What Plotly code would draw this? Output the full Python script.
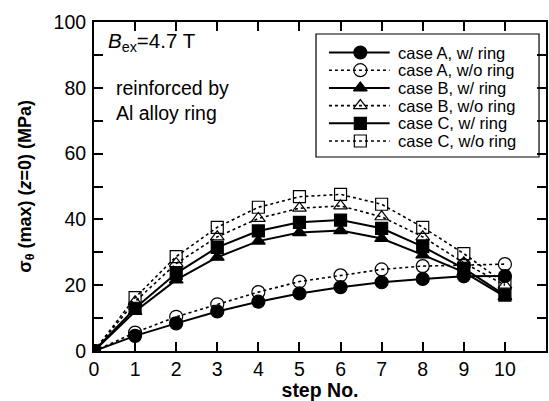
import plotly.graph_objects as go

steps = [0, 1, 2, 3, 4, 5, 6, 7, 8, 9, 10]

case_a_ring = [0, 4.6, 8.4, 12.0, 15.0, 17.5, 19.4, 20.9, 21.9, 22.7, 22.8]
case_a_noring = [0, 5.6, 10.4, 14.2, 17.9, 21.1, 23.0, 24.8, 25.8, 26.1, 26.4]
case_b_ring = [0, 12.0, 21.6, 28.5, 33.4, 36.0, 36.6, 34.2, 29.2, 24.0, 16.5]
case_b_noring = [0, 15.0, 26.6, 34.7, 40.3, 43.4, 44.1, 40.8, 34.7, 26.8, 20.0]
case_c_ring = [0, 13.0, 23.6, 31.5, 36.5, 39.1, 39.8, 37.3, 31.7, 25.1, 17.0]
case_c_noring = [0, 16.2, 28.7, 37.6, 43.7, 46.9, 47.6, 44.6, 37.6, 29.6, 20.6]

series_names = [
    "case A, w/ ring", "case A, w/o ring",
    "case B, w/ ring", "case B, w/o ring",
    "case C, w/ ring", "case C, w/o ring",
]
series_values = [case_a_ring, case_a_noring, case_b_ring,
                 case_b_noring, case_c_ring, case_c_noring]
symbols = ["circle", "circle-open", "triangle-up", "triangle-up-open",
           "square", "square-open"]

FONT = "Liberation Sans, Arial, Helvetica, sans-serif"
W, H = 549, 401
ML, MR, MT, MB = 94, 1, 22, 50
PW, PH = W - ML - MR, H - MT - MB


def px(x):
    """Pixel column -> paper fraction."""
    return (x - ML) / PW


def py(y):
    """Pixel row -> paper fraction."""
    return (H - MB - y) / PH


def line_style(sym):
    hollow = sym.endswith("open")
    return dict(color="black", width=1.6 if hollow else 2.0,
                dash="3px,3px" if hollow else "solid")


def marker_style(sym):
    return dict(symbol=sym, size=13 if "circle" in sym else 12,
                color="black", line=dict(color="black", width=1.2))


fig = go.Figure()
for name, vals, sym in zip(series_names, series_values, symbols):
    fig.add_trace(go.Scatter(
        x=steps, y=vals, name=name, mode="lines+markers",
        line=line_style(sym), marker=marker_style(sym),
        showlegend=False,
    ))

# Legend: framed box with line samples, symbols and labels
box_l, box_r, box_t, box_b = 317, 541, 34, 157
row0, row_gap = 52.5, 17.7
fig.add_shape(type="rect", xref="paper", yref="paper",
              x0=px(box_l), x1=px(box_r), y0=py(box_b), y1=py(box_t),
              line=dict(color="black", width=1.2), layer="above")
for i, (name, sym) in enumerate(zip(series_names, symbols)):
    yc = row0 + i * row_gap
    fig.add_shape(type="line", xref="paper", yref="paper",
                  x0=px(330), x1=px(391), y0=py(yc), y1=py(yc),
                  line=line_style(sym), layer="above")
    fig.add_trace(go.Scatter(
        x=[px(361.5)], y=[py(yc)], xaxis="x2", yaxis="y2",
        mode="markers", marker=marker_style(sym),
        showlegend=False, hoverinfo="skip", cliponaxis=False,
    ))
    fig.add_annotation(
        xref="paper", yref="paper", x=px(397), y=py(yc),
        xanchor="left", yanchor="middle", showarrow=False, text=name,
        font=dict(family=FONT, size=16.5, color="black"),
    )

axis_common = dict(
    showline=True, linecolor="black", linewidth=2, mirror="ticks",
    ticks="inside", tickcolor="black", tickwidth=1.5, ticklen=9,
    showgrid=False, zeroline=False,
    tickfont=dict(family=FONT, size=19.5, color="black"),
)

fig.add_annotation(
    xref="paper", yref="paper", x=-0.15, y=0.5, textangle=-90,
    showarrow=False, xanchor="center", yanchor="middle",
    text="<b>σ<sub>θ</sub> (max) (<i>z</i>=0) (MPa)</b>",
    font=dict(family=FONT, size=18, color="black"),
)
fig.add_annotation(
    xref="paper", yref="paper", x=px(106), y=py(42),
    xanchor="left", yanchor="middle",
    showarrow=False, text="<i>B</i><sub>ex</sub>=4.7 T",
    font=dict(family=FONT, size=20.5, color="black"),
)
fig.add_annotation(
    xref="paper", yref="paper", x=px(114), y=py(101),
    xanchor="left", yanchor="middle", align="left",
    showarrow=False, text="reinforced by<br>Al alloy ring",
    font=dict(family=FONT, size=19.5, color="black"),
)

fig.update_layout(
    width=W, height=H,
    margin=dict(l=ML, r=MR, t=MT, b=MB),
    paper_bgcolor="white", plot_bgcolor="white",
    showlegend=False,
    xaxis=dict(range=[0, 11], tickvals=list(range(0, 11)), **axis_common,
               title=dict(text="<b>step No.</b>",
                          font=dict(family=FONT, size=19.5, color="black"),
                          standoff=5)),
    yaxis=dict(range=[0, 100], dtick=20, **axis_common,
               minor=dict(dtick=10, ticklen=9, tickwidth=1.5,
                          tickcolor="black", ticks="inside"),
               ticklabelstandoff=2),
    xaxis2=dict(overlaying="x", range=[0, 1], visible=False,
                fixedrange=True),
    yaxis2=dict(overlaying="y", range=[0, 1], visible=False,
                fixedrange=True),
)

fig.write_html("out.html")
